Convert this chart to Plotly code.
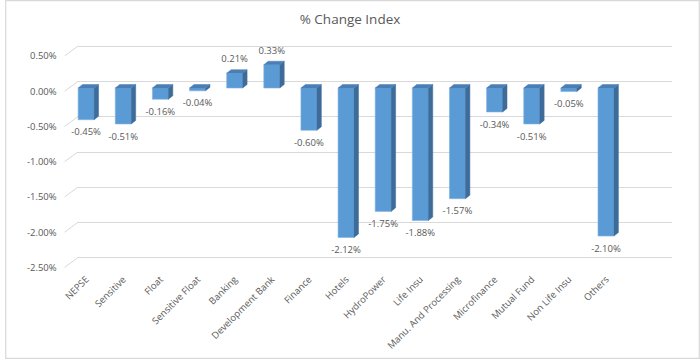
import plotly.graph_objects as go

categories = ["NEPSE", "Sensitive", "Float", "Sensitive Float", "Banking",
              "Development Bank", "Finance", "Hotels", "HydroPower", "Life Insu",
              "Manu. And Processing", "Microfinance", "Mutual Fund", "Non Life Insu", "Others"]
values = [-0.45, -0.51, -0.16, -0.04, 0.21, 0.33, -0.60, -2.12, -1.75, -1.88,
          -1.57, -0.34, -0.51, -0.05, -2.10]
tick_vals = [0.5, 0.0, -0.5, -1.0, -1.5, -2.0, -2.5]
tick_text = ["0.50%", "0.00%", "-0.50%", "-1.00%", "-1.50%", "-2.00%", "-2.50%"]
title_text = "% Change Index"

W, H = 700, 359
FONT = "Open Sans"
GREY = "#595959"
FRONT = "#5B9BD5"
SIDE = "#3D6C9A"
TOP = "#4A7FB6"
GRID = "#d9d9d9"


def px_x(p):
    return p / W


def px_y(p):
    return 1 - p / H


PPU = 70.5                 # pixels per 1 %
dom_top, dom_bot = 40, 275
span = (dom_bot - dom_top) / PPU


def yrange(zero_px):
    top = (zero_px - dom_top) / PPU
    return [top - span, top]


hw = 0.215   # half width of front face (category units)
sw = 0.12    # depth width
dy = 0.05    # depth rise (% units)

idx = list(range(len(categories)))

side_x, side_y, top_x, top_y = [], [], [], []
for c, v in zip(idx, values):
    t, b = max(0, v), min(0, v)
    side_x += [c + hw, c + hw + sw, c + hw + sw, c + hw, c + hw, None]
    side_y += [t, t + dy, b + dy, b, t, None]
    top_x += [c - hw, c + hw, c + hw + sw, c - hw + sw, c - hw, None]
    top_y += [t, t, t + dy, t + dy, t, None]

fig = go.Figure()
# back wall grid subplot (drawn first)
fig.add_trace(go.Scatter(x=[], y=[], xaxis="x", yaxis="y", showlegend=False, hoverinfo="skip"))
# bars subplot
fig.add_trace(go.Bar(x=idx, y=values, width=2 * hw, xaxis="x2", yaxis="y2",
                     marker=dict(color=FRONT, line=dict(width=0.6, color="#7fb3e3")),
                     showlegend=False, hoverinfo="skip"))
fig.add_trace(go.Scatter(x=side_x, y=side_y, fill="toself", fillcolor=SIDE, mode="lines",
                         xaxis="x2", yaxis="y2",
                         line=dict(width=0.5, color=SIDE), showlegend=False, hoverinfo="skip"))
fig.add_trace(go.Scatter(x=top_x, y=top_y, fill="toself", fillcolor=TOP, mode="lines",
                         xaxis="x2", yaxis="y2",
                         line=dict(width=0.5, color=TOP), showlegend=False, hoverinfo="skip"))

labels = [f"{v:.2f}%" for v in values]
fig.add_trace(go.Scatter(x=[c + 0.0 for c in idx], y=values, mode="markers+text", text=labels,
                         xaxis="x2", yaxis="y2",
                         marker=dict(size=12, opacity=0),
                         textposition=["top center" if v > 0 else "bottom center" for v in values],
                         textfont=dict(family=FONT, size=9.5, color=GREY),
                         showlegend=False, hoverinfo="skip", cliponaxis=False))
# front label subplot
fig.add_trace(go.Scatter(x=[], y=[], xaxis="x3", yaxis="y3", showlegend=False, hoverinfo="skip"))

shapes = []
for tv in tick_vals:
    shapes.append(dict(type="line", xref="paper", x0=px_x(60), x1=px_x(73),
                       yref="y3", y0=tv, y1=tv + ((91.2 - 81.7) / PPU),
                       line=dict(color=GRID, width=1)))
shapes.append(dict(type="rect", xref="paper", yref="paper", x0=0.001, x1=0.999, y0=0.002, y1=0.998,
                   line=dict(color=GRID, width=1.2)))

ydom = [px_y(dom_bot), px_y(dom_top)]
fig.update_layout(
    width=W, height=H,
    margin=dict(l=0, r=0, t=0, b=0),
    paper_bgcolor="white", plot_bgcolor="rgba(0,0,0,0)",
    title=dict(text=title_text, x=0.5, xanchor="center", y=px_y(19), yanchor="middle",
               font=dict(family=FONT, size=13.5, color=GREY)),
    shapes=shapes,
    xaxis=dict(domain=[px_x(73), px_x(672)], range=[0, 1], visible=False, anchor="y"),
    yaxis=dict(domain=ydom, range=yrange(81.7), tickvals=tick_vals, showgrid=True, gridcolor=GRID,
               gridwidth=1, zeroline=False, showticklabels=False, anchor="x"),
    xaxis2=dict(domain=[px_x(63), px_x(624)], range=[-0.5, 14.5], tickvals=idx, ticktext=categories,
                tickangle=-45, showgrid=False, zeroline=False, showline=False, ticks="",
                tickfont=dict(family=FONT, size=9.5, color=GREY), anchor="free", position=px_y(271)),
    yaxis2=dict(domain=ydom, range=yrange(88), showgrid=False, zeroline=False, showticklabels=False,
                anchor="x2"),
    xaxis3=dict(domain=[px_x(53), px_x(60)], range=[0, 1], visible=False, anchor="y3"),
    yaxis3=dict(domain=ydom, range=yrange(91.2), tickvals=tick_vals, ticktext=tick_text, showgrid=False,
                zeroline=False, anchor="x3", ticks="",
                tickfont=dict(family=FONT, size=9.5, color=GREY)),
)
fig.write_html("out.html", config={"displayModeBar": False},
               post_script="document.body.style.margin='0px';")
